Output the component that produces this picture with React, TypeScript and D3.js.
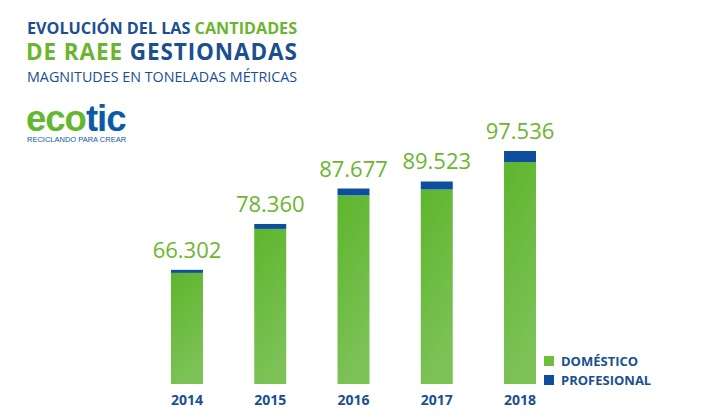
import { useEffect, useRef } from 'react';
import * as d3 from 'd3';

// Toneladas métricas gestionadas por año
const years = ['2014', '2015', '2016', '2017', '2018'];
const domestico = [65502, 77060, 85877, 87423, 94636];
const profesional = [800, 1300, 1800, 2100, 2900];
const legendItems = ['DOMÉSTICO', 'PROFESIONAL'];

const W = 712;
const H = 419;
const blue = '#1b4f8f';
const barBlue = '#0d4f9e';
const green = '#6cb52f';
const font = '"Open Sans", sans-serif';
const logoFont = '"Liberation Sans", Arial, sans-serif';

export default function App() {
  const svgRef = useRef<SVGSVGElement>(null);

  useEffect(() => {
    if (!svgRef.current) return;
    document.body.style.margin = '0';
    const svg = d3.select(svgRef.current);
    svg.selectAll('*').remove();

    const data = years.map((y, i) => ({
      year: y,
      dom: domestico[i],
      pro: profesional[i],
      total: domestico[i] + profesional[i],
    }));

    const x = d3.scaleBand<string>().domain(years).range([171, 536]).paddingInner(0.616).paddingOuter(0);
    const y = d3.scaleLinear().domain([36300, 97536]).range([384, 151]);

    const defs = svg.append('defs');
    const grad = defs.append('linearGradient')
      .attr('id', 'greenBar')
      .attr('x1', 0).attr('y1', 0).attr('x2', 0.3).attr('y2', 1);
    grad.append('stop').attr('offset', '0%').attr('stop-color', '#5db52c');
    grad.append('stop').attr('offset', '100%').attr('stop-color', '#7cc257');

    // Title
    const t1 = svg.append('text').attr('x', 27).attr('y', 34)
      .attr('font-family', font).attr('font-weight', 700).attr('font-size', 16.2);
    t1.append('tspan').attr('fill', blue).text('EVOLUCIÓN DEL LAS ');
    t1.append('tspan').attr('fill', green).text('CANTIDADES');

    const t2 = svg.append('text').attr('x', 26).attr('y', 60)
      .attr('font-family', font).attr('font-weight', 700).attr('font-size', 22.5)
      .attr('letter-spacing', 0.9);
    t2.append('tspan').attr('fill', green).text('DE RAEE ');
    t2.append('tspan').attr('fill', blue).text('GESTIONADAS');

    svg.append('text').attr('x', 27).attr('y', 82)
      .attr('font-family', font).attr('font-size', 14.3).attr('fill', blue)
      .text('MAGNITUDES EN TONELADAS MÉTRICAS');

    // Logo
    const logo = svg.append('text').attr('x', 26).attr('y', 131)
      .attr('font-family', logoFont).attr('font-weight', 700)
      .attr('font-size', 36.5).attr('letter-spacing', -1);
    logo.append('tspan').attr('fill', '#63b830').text('eco');
    logo.append('tspan').attr('fill', '#0d5aa7').text('tic');
    svg.append('text').attr('x', 27).attr('y', 141.5)
      .attr('font-family', logoFont)
      .attr('font-size', 7.5).attr('fill', '#0d5aa7')
      .text('RECICLANDO PARA CREAR');

    // Bars
    const g = svg.append('g');
    g.selectAll('rect.dom').data(data).join('rect')
      .attr('class', 'dom')
      .attr('x', d => x(d.year)!)
      .attr('width', x.bandwidth())
      .attr('y', d => y(d.dom))
      .attr('height', d => y.range()[0] - y(d.dom))
      .attr('fill', 'url(#greenBar)');

    g.selectAll('rect.pro').data(data).join('rect')
      .attr('class', 'pro')
      .attr('x', d => x(d.year)!)
      .attr('width', x.bandwidth())
      .attr('y', d => y(d.total))
      .attr('height', d => y(d.dom) - y(d.total))
      .attr('fill', barBlue);

    const fmt = (v: number) => d3.format(',')(v).replace(/,/g, '.');
    g.selectAll('text.val').data(data).join('text')
      .attr('class', 'val')
      .attr('x', d => x(d.year)! + x.bandwidth() / 2)
      .attr('y', d => y(d.total) - 12)
      .attr('text-anchor', 'middle')
      .attr('font-family', font).attr('font-size', 22).attr('fill', green)
      .text(d => fmt(d.total));

    // X axis labels
    g.selectAll('text.year').data(years).join('text')
      .attr('class', 'year')
      .attr('x', d => x(d)! + x.bandwidth() / 2)
      .attr('y', 405)
      .attr('text-anchor', 'middle')
      .attr('font-family', font).attr('font-weight', 700).attr('font-size', 14)
      .attr('fill', blue)
      .text(d => d);

    // Legend
    const legendColors = ['#6cbf3a', barBlue];
    const lg = svg.append('g').attr('transform', 'translate(544,356)');
    legendItems.forEach((label, i) => {
      lg.append('rect').attr('x', 0).attr('y', i * 19).attr('width', 10).attr('height', 10)
        .attr('fill', legendColors[i]);
      lg.append('text').attr('x', 17).attr('y', i * 19 + 10)
        .attr('font-family', font).attr('font-weight', 700).attr('font-size', 13)
        .attr('fill', blue).text(label);
    });
  }, []);

  return (
    <div style={{ position: 'absolute', left: 0, top: 0 }}>
      <svg ref={svgRef} width={W} height={H} style={{ display: 'block', background: '#fff' }} />
    </div>
  );
}
